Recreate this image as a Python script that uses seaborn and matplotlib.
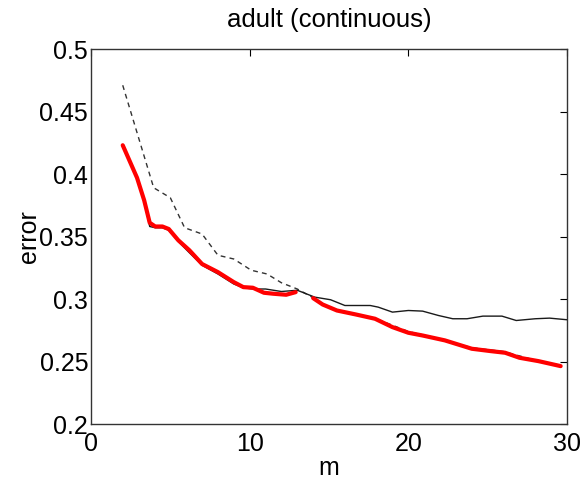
import matplotlib
matplotlib.use("Agg")
import matplotlib.pyplot as plt
import seaborn as sns

# ---- data ----
m_dash = [2.0, 3.95, 5.0, 5.9, 7.0, 8.0, 9.0, 10.1, 11.1, 12.0, 13.0, 14.0,
          15.0, 16.0, 17.0, 18.0, 19.0, 20.0, 22.0, 24.0, 26.0, 28.0, 29.6]
err_dash = [0.471, 0.389, 0.381, 0.357, 0.352, 0.335, 0.332, 0.323, 0.320,
            0.313, 0.308, 0.301, 0.293, 0.289, 0.287, 0.284, 0.279, 0.274,
            0.268, 0.261, 0.258, 0.251, 0.247]

m_black = [2.0, 2.9, 3.35, 3.7, 4.05, 4.5, 4.9, 5.5, 6.2, 7.0, 8.0, 9.0, 9.6,
           10.2, 11.0, 11.5, 12.0, 13.0, 14.1, 15.1, 16.0, 17.6, 18.1, 19.0,
           20.0, 20.9, 21.9, 22.8, 23.7, 24.7, 25.9, 26.8, 28.0, 28.9, 30.0]
err_black = [0.422, 0.398, 0.378, 0.358, 0.357, 0.357, 0.355, 0.346, 0.337,
             0.327, 0.320, 0.312, 0.309, 0.308, 0.308, 0.307, 0.306, 0.307,
             0.3015, 0.2994, 0.2948, 0.2948, 0.2935, 0.2895, 0.2908, 0.2903,
             0.2868, 0.2842, 0.2842, 0.2863, 0.2863, 0.2828, 0.2842, 0.2847,
             0.2834]

m_red_a = [2.0, 2.9, 3.35, 3.7, 4.05, 4.5, 4.9, 5.5, 6.2, 7.0, 8.0, 9.0, 9.6,
           10.2, 10.9, 11.5, 12.3, 12.9]
err_red_a = [0.423, 0.397, 0.379, 0.361, 0.358, 0.358, 0.356, 0.347, 0.339,
             0.328, 0.3215, 0.3135, 0.3095, 0.309, 0.305, 0.3042, 0.3034,
             0.3055]
m_red_b = [14.0, 14.6, 15.5, 16.7, 17.9, 19.0, 20.0, 20.9, 22.3, 24.0, 25.2,
           26.1, 27.0, 28.2, 29.6]
err_red_b = [0.3007, 0.2956, 0.2908, 0.2876, 0.2842, 0.2775, 0.273, 0.2708,
             0.2669, 0.2602, 0.2583, 0.257, 0.253, 0.2503, 0.2463]

x_ticks = [0, 10, 20, 30]
y_ticks = [0.2, 0.25, 0.3, 0.35, 0.4, 0.45, 0.5]
y_tick_labels = ["0.2", "0.25", "0.3", "0.35", "0.4", "0.45", "0.5"]

sns.set_style("white")
plt.rcParams["font.family"] = ["Liberation Sans", "DejaVu Sans"]
plt.rcParams["text.color"] = "black"
plt.rcParams["axes.labelcolor"] = "black"

fig = plt.figure(figsize=(5.82, 4.83), dpi=100)
ax = fig.add_axes([91 / 582, 1 - 424 / 483, 476 / 582, 375 / 483])

sns.lineplot(x=m_dash, y=err_dash, ax=ax, color="#333333", linewidth=1.0,
             linestyle="--")
ax.lines[-1].set_dashes([3.5, 3])
sns.lineplot(x=m_black, y=err_black, ax=ax, color="#1a1a1a", linewidth=1.0)
sns.lineplot(x=m_red_a, y=err_red_a, ax=ax, color="#ff0000", linewidth=3.0,
             solid_capstyle="round")
sns.lineplot(x=m_red_b, y=err_red_b, ax=ax, color="#ff0000", linewidth=3.0,
             solid_capstyle="round")

ax.set_xlim(0, 30)
ax.set_ylim(0.2, 0.5)
ax.set_xticks(x_ticks)
ax.set_xticklabels([str(t) for t in x_ticks])
ax.set_yticks(y_ticks)
ax.set_yticklabels(y_tick_labels)
ax.tick_params(direction="in", length=5, width=0.8, top=True, right=True,
               labelsize=18, colors="black")
ax.tick_params(axis="y", pad=2)
ax.tick_params(axis="x", pad=6)
for s in ax.spines.values():
    s.set_color("#333333")
    s.set_linewidth(1.0)
    s.set_visible(True)

ax.set_title("adult (continuous)", fontsize=18.5, pad=16, color="black")
ax.set_xlabel("m", fontsize=18, labelpad=0)
ax.set_ylabel("error", fontsize=18, labelpad=-1)

fig.savefig("out.png", dpi=100)
